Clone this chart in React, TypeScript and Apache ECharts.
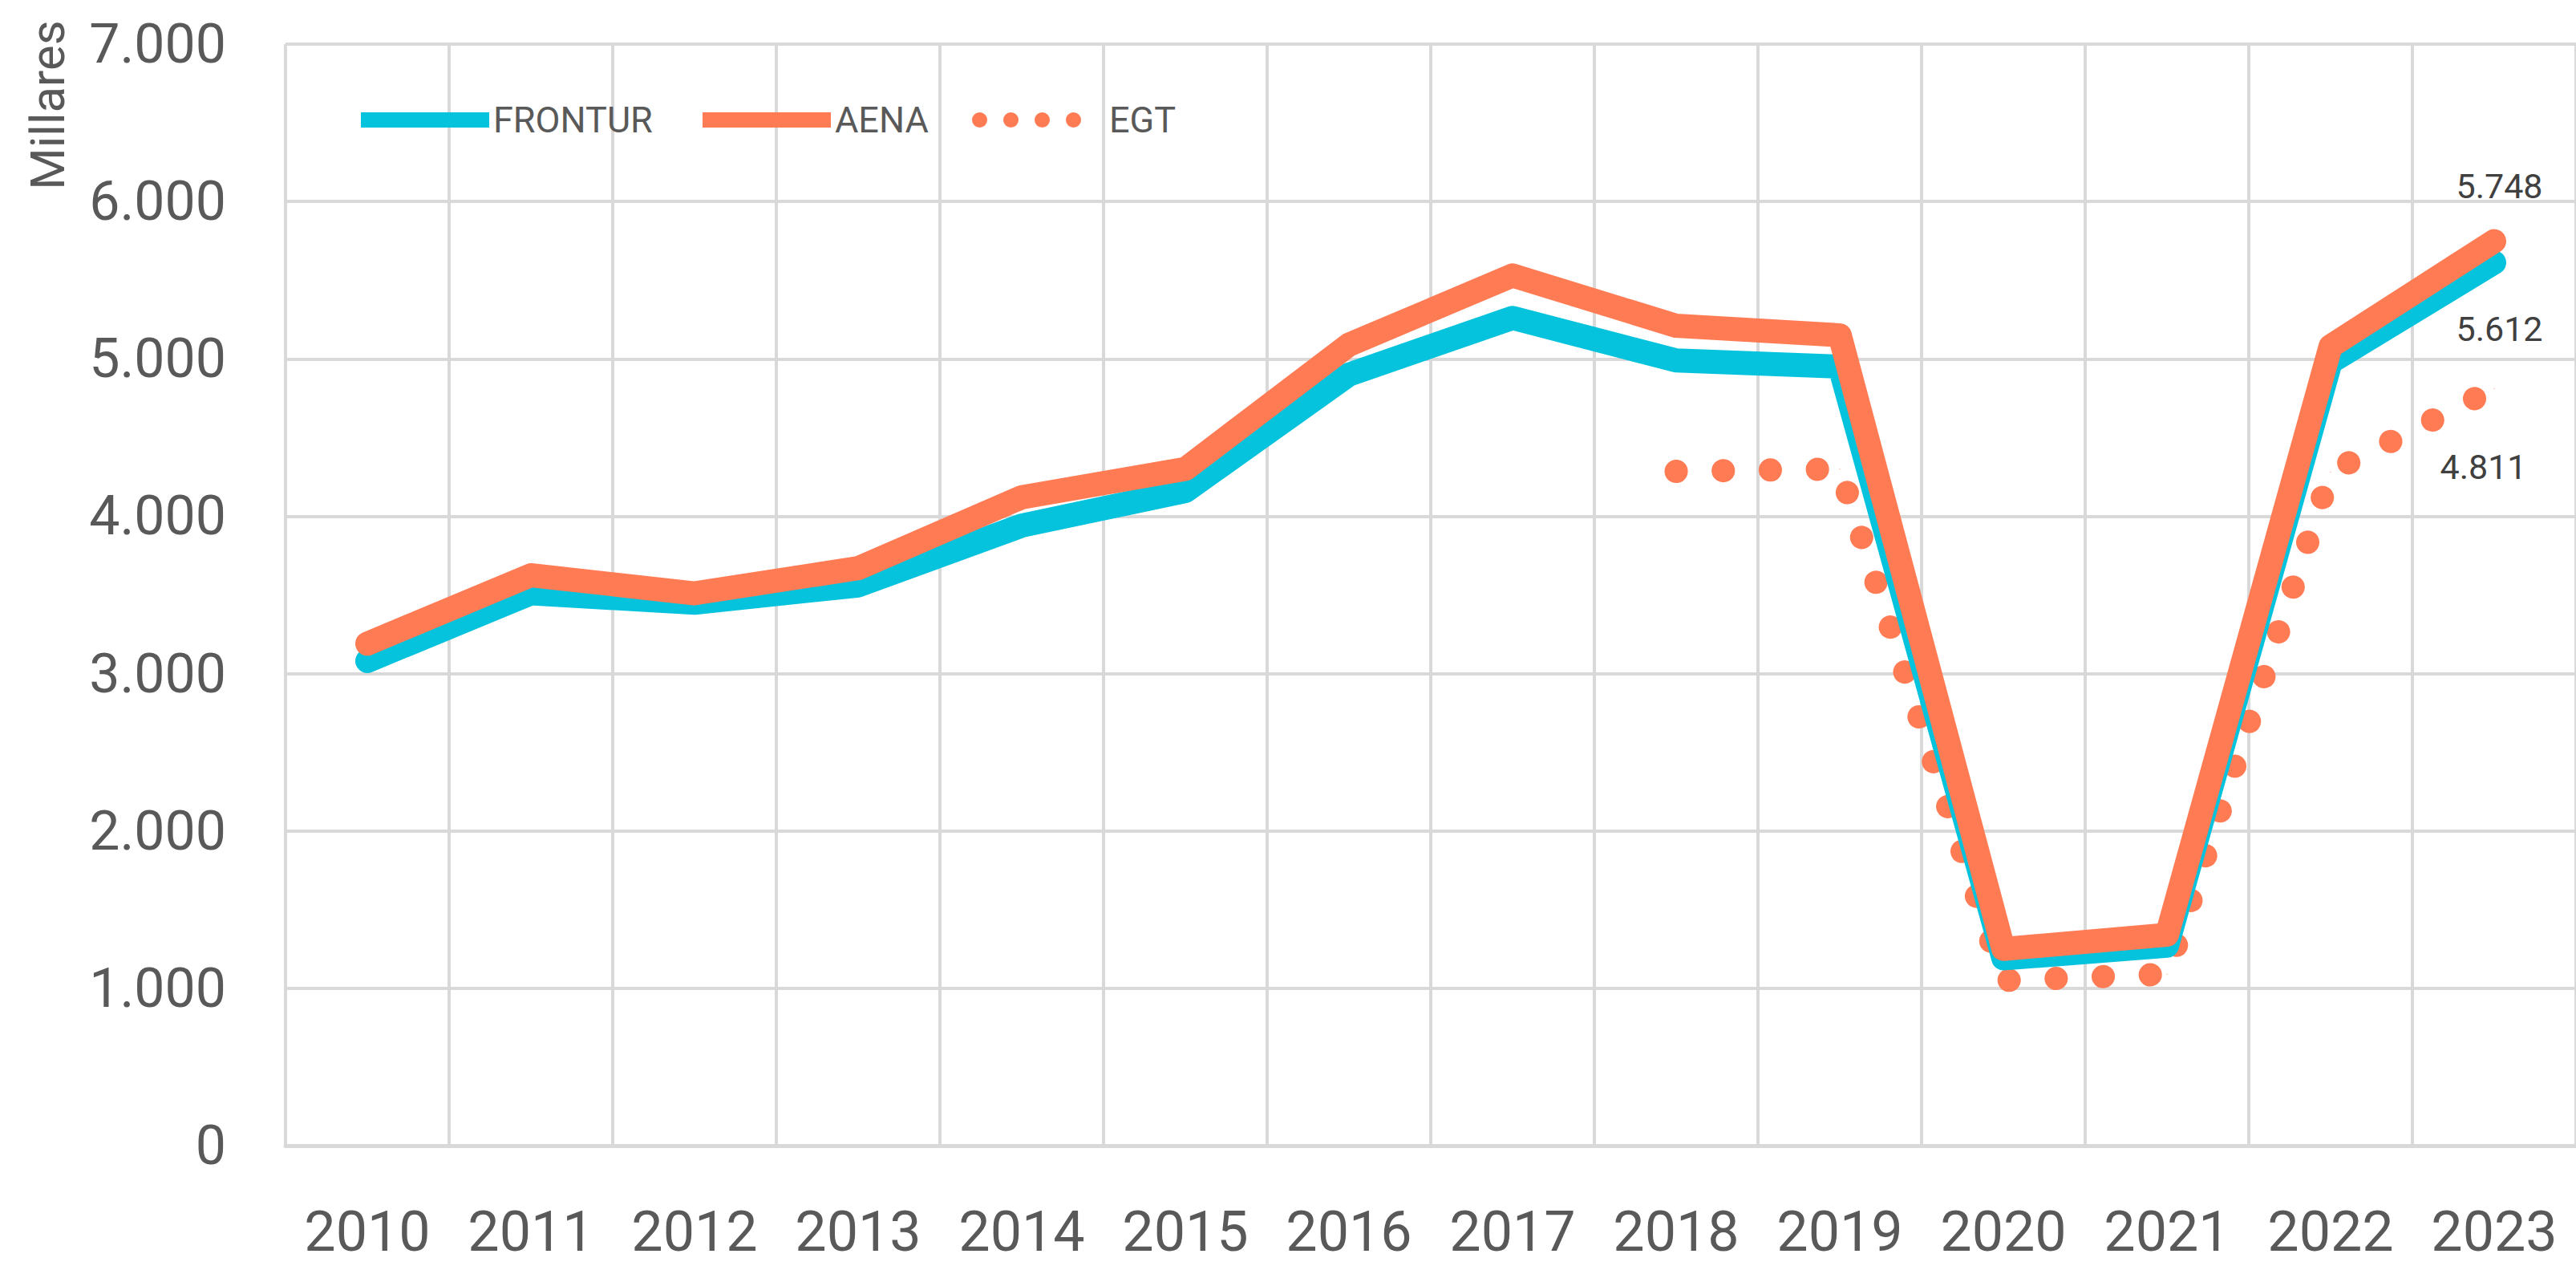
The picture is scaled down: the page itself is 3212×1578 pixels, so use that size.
import React, { useEffect, useRef } from "react";
import * as echarts from "echarts";

const years = ["2010","2011","2012","2013","2014","2015","2016","2017","2018","2019","2020","2021","2022","2023"];
const frontur = [3080, 3510, 3450, 3560, 3940, 4160, 4900, 5260, 4990, 4950, 1190, 1270, 4980, 5612];
const aena = [3190, 3625, 3510, 3670, 4120, 4300, 5090, 5530, 5210, 5150, 1250, 1340, 5080, 5748];
const egt = [null, null, null, null, null, null, null, null, 4285, 4300, 1050, 1090, 4280, 4811];
const yTicks = { min: 0, max: 7000, interval: 1000 };
const seriesNames = ["FRONTUR", "AENA", "EGT"];

const CYAN = "#05C2DD";
const ORANGE = "#FF7B54";
const GRID = "#D9D9D9";
const TEXT = "#595959";
const FONT = "Roboto";

const fmt = (v: number) => {
  const s = Math.round(v).toString();
  return s.length > 3 ? s.slice(0, -3) + "." + s.slice(-3) : s;
};

const withLastLabel = (arr: (number | null)[], pos: [number, number]) =>
  arr.map((v, i) =>
    i === arr.length - 1
      ? {
          value: v,
          label: {
            show: true,
            position: pos,
            align: "center",
            verticalAlign: "middle",
            formatter: (p: any) => fmt(p.value),
            fontFamily: FONT,
            fontSize: 43,
            color: "#404040",
          },
        }
      : v
  );

const dotsPath =
  "path://M0,9.5a9.5,9.5 0 1,0 19,0a9.5,9.5 0 1,0 -19,0z" +
  "M39,9.5a9.5,9.5 0 1,0 19,0a9.5,9.5 0 1,0 -19,0z" +
  "M78,9.5a9.5,9.5 0 1,0 19,0a9.5,9.5 0 1,0 -19,0z" +
  "M117,9.5a9.5,9.5 0 1,0 19,0a9.5,9.5 0 1,0 -19,0z";

export default function App() {
  const ref = useRef<HTMLDivElement>(null);
  useEffect(() => {
    if (!ref.current) return;
    const chart = echarts.init(ref.current, undefined, { renderer: "svg" });
    const legendBase = {
      orient: "horizontal",
      top: 127,
      padding: 0,
      itemHeight: 19,
      selectedMode: false,
      textStyle: { fontFamily: FONT, fontSize: 45, color: TEXT },
    };
    chart.setOption({
      animation: false,
      backgroundColor: "#ffffff",
      grid: { left: 356, top: 55, width: 2862, height: 1373, containLabel: false },
      legend: [
        { ...legendBase, left: 450, itemWidth: 160, data: [{ name: seriesNames[0], icon: "rect", itemStyle: { color: CYAN } }] },
        { ...legendBase, left: 876, itemWidth: 160, data: [{ name: seriesNames[1], icon: "rect", itemStyle: { color: ORANGE } }] },
        {
          ...legendBase,
          left: 1212,
          itemWidth: 136,
          textStyle: { fontFamily: FONT, fontSize: 45, color: TEXT, padding: [0, 0, 0, 30] },
          data: [{ name: seriesNames[2], icon: dotsPath, itemStyle: { color: ORANGE } }],
        },
      ],
      xAxis: {
        type: "category",
        data: years,
        boundaryGap: true,
        axisLine: { show: true, lineStyle: { color: GRID, width: 5 } },
        axisTick: { show: false },
        splitLine: { show: true, interval: 0, lineStyle: { color: GRID, width: 4 } },
        axisLabel: {
          interval: 0,
          fontFamily: FONT,
          fontSize: 70,
          lineHeight: 60,
          color: TEXT,
          margin: 77,
        },
      },
      yAxis: {
        type: "value",
        min: yTicks.min,
        max: yTicks.max,
        interval: yTicks.interval,
        axisLine: { show: false },
        axisTick: { show: false },
        splitLine: { show: true, lineStyle: { color: GRID, width: 4 } },
        axisLabel: {
          fontFamily: FONT,
          fontSize: 68,
          lineHeight: 56,
          color: TEXT,
          margin: 74,
          formatter: (v: number) => fmt(v),
        },
      },
      graphic: [
        {
          type: "text",
          x: 59,
          y: 131,
          rotation: Math.PI / 2,
          style: {
            text: "Millares",
            fontFamily: FONT,
            fontSize: 60,
            fill: TEXT,
            align: "center",
            verticalAlign: "middle",
          },
        },
      ],
      series: [
        {
          name: seriesNames[2],
          type: "line",
          data: withLastLabel(egt, [-13, 98]),
          showSymbol: true,
          symbol: "circle",
          symbolSize: 1,
          connectNulls: false,
          itemStyle: { color: ORANGE },
          lineStyle: { color: ORANGE, width: 29, type: [0.1, 58.6], cap: "round", join: "round" },
          silent: true,
          z: 2,
        },
        {
          name: seriesNames[0],
          type: "line",
          data: withLastLabel(frontur, [7, 83]),
          showSymbol: true,
          symbol: "circle",
          symbolSize: 1,
          itemStyle: { color: CYAN },
          lineStyle: { color: CYAN, width: 30, cap: "round", join: "round" },
          silent: true,
          z: 3,
        },
        {
          name: seriesNames[1],
          type: "line",
          data: withLastLabel(aena, [7, -68]),
          showSymbol: true,
          symbol: "circle",
          symbolSize: 1,
          itemStyle: { color: ORANGE },
          lineStyle: { color: ORANGE, width: 30, cap: "round", join: "round" },
          silent: true,
          z: 4,
        },
      ],
    });
    return () => chart.dispose();
  }, []);
  return (
    <div
      ref={ref}
      style={{ position: "fixed", left: 0, top: 0, width: 3212, height: 1578, background: "#fff" }}
    />
  );
}
